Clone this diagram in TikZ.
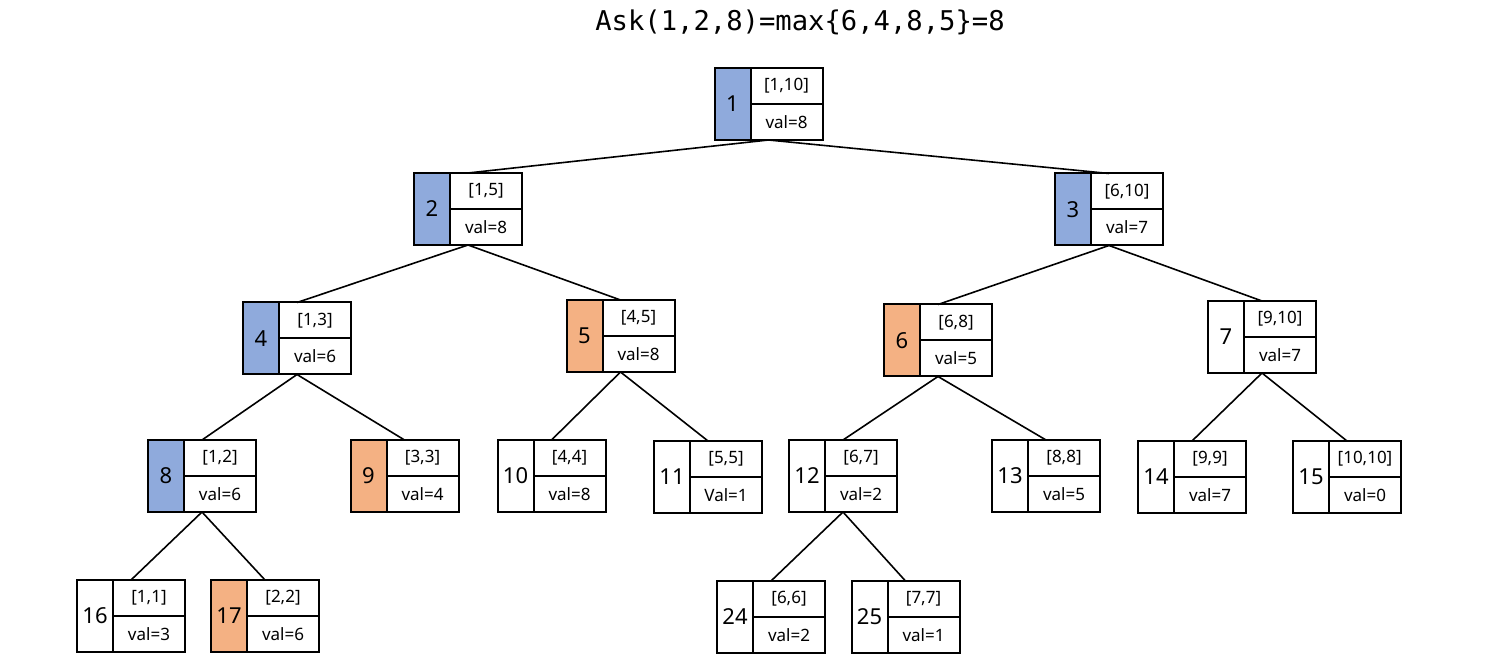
\documentclass[tikz,border=0pt]{standalone}
\usepackage{fontspec}
\setmainfont{Noto Sans}
\newfontfamily\codefont{DejaVu Sans Mono}
\usepackage{xcolor}
\usepackage{tikz}
\definecolor{visit}{HTML}{8FAADC}
\definecolor{hit}{HTML}{F4B183}

\begin{document}
\begin{tikzpicture}[x=0.5pt,y=-0.5pt,
	whole/.style={minimum width=54pt,minimum height=36pt,inner sep=0pt,outer sep=0pt},
	idbox/.style={draw,line width=1pt,minimum width=18pt,minimum height=36pt,inner sep=0pt,outer sep=0pt,font=\fontsize{11}{13}\selectfont},
	segbox/.style={draw,line width=1pt,minimum width=36pt,minimum height=18pt,inner sep=0pt,outer sep=0pt,font=\fontsize{8.5}{10}\selectfont},
	edge/.style={line width=0.8pt}]
					\useasboundingbox (0,0) rectangle (1499,672);
					\coordinate (c1) at (768.5,104);
					\coordinate (c2) at (468,209);
					\coordinate (c3) at (1109,209.5);
					\coordinate (c4) at (297,338.5);
					\coordinate (c5) at (620.5,336);
					\coordinate (c6) at (938,340.5);
					\coordinate (c7) at (1262,337);
					\coordinate (c8) at (202,476);
					\coordinate (c9) at (404.5,476);
					\coordinate (c10) at (551.5,476);
					\coordinate (c11) at (708,477);
					\coordinate (c12) at (843,476);
					\coordinate (c13) at (1046,476);
					\coordinate (c14) at (1192,477);
					\coordinate (c15) at (1347,477);
					\coordinate (c16) at (131,616);
					\coordinate (c17) at (265,616);
					\coordinate (c24) at (771,617);
					\coordinate (c25) at (905.5,617);
					
					\node (title) at (800,22) {\codefont\fontsize{13.6}{16}\selectfont Ask(1,2,8)=max\{6,4,8,5\}=8};
					
					\node (t1) at (c1) [whole] {};
					\node (k1) at (t1.west) [idbox,anchor=west,fill=visit] {1};
					\node (s1) at (t1.north east) [segbox,anchor=north east] {[1,10]};
					\node (v1) at (t1.south east) [segbox,anchor=south east] {val=8};
					\node (t2) at (c2) [whole] {};
					\node (k2) at (t2.west) [idbox,anchor=west,fill=visit] {2};
					\node (s2) at (t2.north east) [segbox,anchor=north east] {[1,5]};
					\node (v2) at (t2.south east) [segbox,anchor=south east] {val=8};
					\node (t3) at (c3) [whole] {};
					\node (k3) at (t3.west) [idbox,anchor=west,fill=visit] {3};
					\node (s3) at (t3.north east) [segbox,anchor=north east] {[6,10]};
					\node (v3) at (t3.south east) [segbox,anchor=south east] {val=7};
					\node (t4) at (c4) [whole] {};
					\node (k4) at (t4.west) [idbox,anchor=west,fill=visit] {4};
					\node (s4) at (t4.north east) [segbox,anchor=north east] {[1,3]};
					\node (v4) at (t4.south east) [segbox,anchor=south east] {val=6};
					\node (t5) at (c5) [whole] {};
					\node (k5) at (t5.west) [idbox,anchor=west,fill=hit] {5};
					\node (s5) at (t5.north east) [segbox,anchor=north east] {[4,5]};
					\node (v5) at (t5.south east) [segbox,anchor=south east] {val=8};
					\node (t6) at (c6) [whole] {};
					\node (k6) at (t6.west) [idbox,anchor=west,fill=hit] {6};
					\node (s6) at (t6.north east) [segbox,anchor=north east] {[6,8]};
					\node (v6) at (t6.south east) [segbox,anchor=south east] {val=5};
					\node (t7) at (c7) [whole] {};
					\node (k7) at (t7.west) [idbox,anchor=west] {7};
					\node (s7) at (t7.north east) [segbox,anchor=north east] {[9,10]};
					\node (v7) at (t7.south east) [segbox,anchor=south east] {val=7};
					\node (t8) at (c8) [whole] {};
					\node (k8) at (t8.west) [idbox,anchor=west,fill=visit] {8};
					\node (s8) at (t8.north east) [segbox,anchor=north east] {[1,2]};
					\node (v8) at (t8.south east) [segbox,anchor=south east] {val=6};
					\node (t9) at (c9) [whole] {};
					\node (k9) at (t9.west) [idbox,anchor=west,fill=hit] {9};
					\node (s9) at (t9.north east) [segbox,anchor=north east] {[3,3]};
					\node (v9) at (t9.south east) [segbox,anchor=south east] {val=4};
					\node (t10) at (c10) [whole] {};
					\node (k10) at (t10.west) [idbox,anchor=west] {10};
					\node (s10) at (t10.north east) [segbox,anchor=north east] {[4,4]};
					\node (v10) at (t10.south east) [segbox,anchor=south east] {val=8};
					\node (t11) at (c11) [whole] {};
					\node (k11) at (t11.west) [idbox,anchor=west] {11};
					\node (s11) at (t11.north east) [segbox,anchor=north east] {[5,5]};
					\node (v11) at (t11.south east) [segbox,anchor=south east] {Val=1};
					\node (t12) at (c12) [whole] {};
					\node (k12) at (t12.west) [idbox,anchor=west] {12};
					\node (s12) at (t12.north east) [segbox,anchor=north east] {[6,7]};
					\node (v12) at (t12.south east) [segbox,anchor=south east] {val=2};
					\node (t13) at (c13) [whole] {};
					\node (k13) at (t13.west) [idbox,anchor=west] {13};
					\node (s13) at (t13.north east) [segbox,anchor=north east] {[8,8]};
					\node (v13) at (t13.south east) [segbox,anchor=south east] {val=5};
					\node (t14) at (c14) [whole] {};
					\node (k14) at (t14.west) [idbox,anchor=west] {14};
					\node (s14) at (t14.north east) [segbox,anchor=north east] {[9,9]};
					\node (v14) at (t14.south east) [segbox,anchor=south east] {val=7};
					\node (t15) at (c15) [whole] {};
					\node (k15) at (t15.west) [idbox,anchor=west] {15};
					\node (s15) at (t15.north east) [segbox,anchor=north east] {[10,10]};
					\node (v15) at (t15.south east) [segbox,anchor=south east] {val=0};
					\node (t16) at (c16) [whole] {};
					\node (k16) at (t16.west) [idbox,anchor=west] {16};
					\node (s16) at (t16.north east) [segbox,anchor=north east] {[1,1]};
					\node (v16) at (t16.south east) [segbox,anchor=south east] {val=3};
					\node (t17) at (c17) [whole] {};
					\node (k17) at (t17.west) [idbox,anchor=west,fill=hit] {17};
					\node (s17) at (t17.north east) [segbox,anchor=north east] {[2,2]};
					\node (v17) at (t17.south east) [segbox,anchor=south east] {val=6};
					\node (t24) at (c24) [whole] {};
					\node (k24) at (t24.west) [idbox,anchor=west] {24};
					\node (s24) at (t24.north east) [segbox,anchor=north east] {[6,6]};
					\node (v24) at (t24.south east) [segbox,anchor=south east] {val=2};
					\node (t25) at (c25) [whole] {};
					\node (k25) at (t25.west) [idbox,anchor=west] {25};
					\node (s25) at (t25.north east) [segbox,anchor=north east] {[7,7]};
					\node (v25) at (t25.south east) [segbox,anchor=south east] {val=1};
					
					\draw[edge] (t1.south) to[] (t2.north);
					\draw[edge] (t1.south) to[] (t3.north);
					\draw[edge] (t2.south) to[] (t4.north);
					\draw[edge] (t2.south) to[] (t5.north);
					\draw[edge] (t3.south) to[] (t6.north);
					\draw[edge] (t3.south) to[] (t7.north);
					\draw[edge] (t4.south) to[] (t8.north);
					\draw[edge] (t4.south) to[] (t9.north);
					\draw[edge] (t5.south) to[] (t10.north);
					\draw[edge] (t5.south) to[] (t11.north);
					\draw[edge] (t6.south) to[] (t12.north);
					\draw[edge] (t6.south) to[] (t13.north);
					\draw[edge] (t7.south) to[] (t14.north);
					\draw[edge] (t7.south) to[] (t15.north);
					\draw[edge] (t8.south) to[] (t16.north);
					\draw[edge] (t8.south) to[] (t17.north);
					\draw[edge] (t12.south) to[] (t24.north);
					\draw[edge] (t12.south) to[] (t25.north);
				\end{tikzpicture}
\end{document}
